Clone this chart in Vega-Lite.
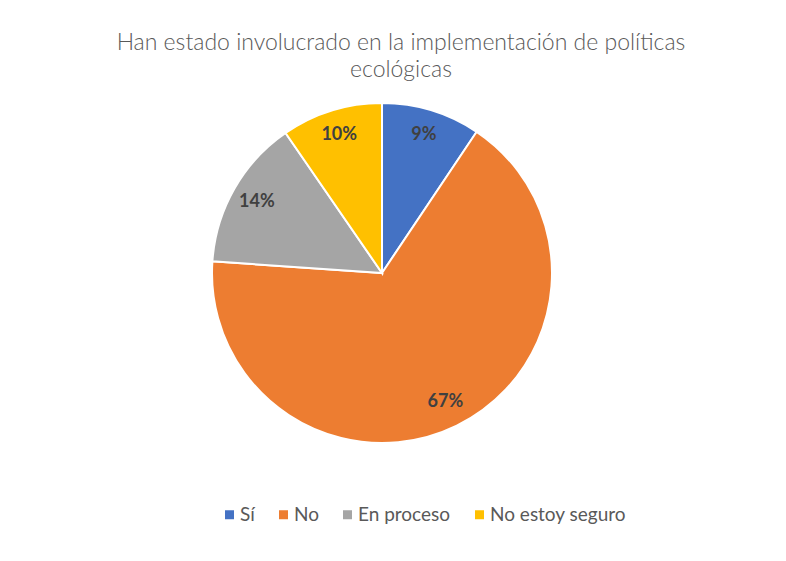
{
  "$schema": "https://vega.github.io/schema/vega-lite/v6.json",
  "width": 764,
  "height": 546,
  "autosize": "none",
  "padding": 0,
  "background": "white",
  "title": {
    "text": ["Han estado involucrado en la implementación de políticas", "ecológicas"],
    "anchor": "middle",
    "orient": "top",
    "font": "Lato",
    "fontSize": 23,
    "fontWeight": 300,
    "color": "#595959",
    "lineHeight": 27,
    "baseline": "top",
    "offset": 0,
    "dx": 19,
    "dy": 82
  },
  "config": {
    "view": {"stroke": null}
  },
  "data": {
    "values": [
      {"respuesta": "Sí", "valor": 9.4, "orden": 1, "etiqueta": "9%"},
      {"respuesta": "No", "valor": 66.7, "orden": 2, "etiqueta": "67%"},
      {"respuesta": "En proceso", "valor": 14.3, "orden": 3, "etiqueta": "14%"},
      {"respuesta": "No estoy seguro", "valor": 9.6, "orden": 4, "etiqueta": "10%"}
    ]
  },
  "encoding": {
    "theta": {"field": "valor", "type": "quantitative", "stack": true},
    "order": {"field": "orden", "type": "quantitative"}
  },
  "layer": [
    {
      "mark": {"type": "arc", "outerRadius": 170, "stroke": "white", "strokeWidth": 2},
      "encoding": {
        "color": {
          "field": "respuesta",
          "type": "nominal",
          "sort": ["Sí", "No", "En proceso", "No estoy seguro"],
          "scale": {
            "domain": ["Sí", "No", "En proceso", "No estoy seguro"],
            "range": ["#4472C4", "#ED7D31", "#A5A5A5", "#FFC000"]
          },
          "legend": {
            "title": null,
            "orient": "none",
            "direction": "horizontal",
            "legendX": 220,
            "legendY": 505,
            "symbolType": "square",
            "symbolSize": 81,
            "symbolStrokeWidth": 0,
            "labelFont": "Lato",
            "labelFontSize": 19,
            "labelColor": "#595959",
            "labelOffset": 1,
            "columnPadding": 19,
            "labelLimit": 300
          }
        }
      }
    },
    {
      "mark": {"type": "text", "radius": 144, "font": "Lato", "fontSize": 18, "fontWeight": "bold", "fill": "#404040"},
      "encoding": {
        "detail": {"field": "respuesta", "type": "nominal"},
        "text": {"field": "etiqueta", "type": "nominal"}
      }
    }
  ]
}
